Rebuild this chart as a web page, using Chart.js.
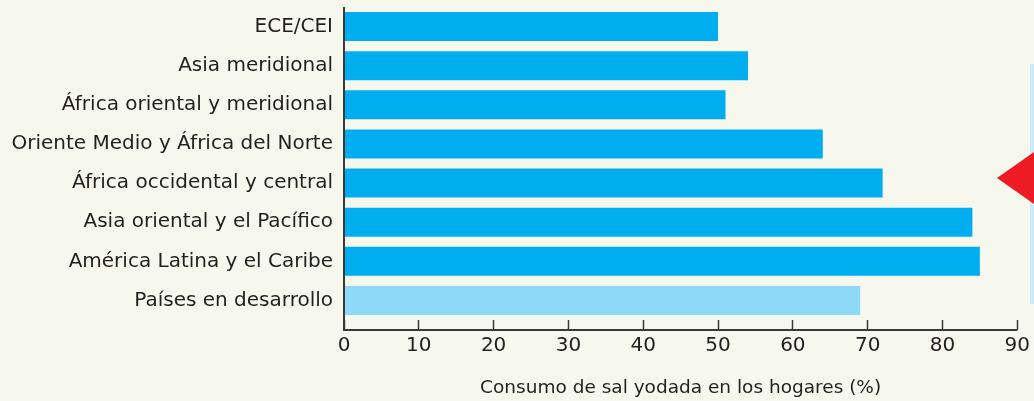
<!DOCTYPE html>
<html>
<head>
<meta charset="utf-8">
<script src="https://cdn.jsdelivr.net/npm/chart.js@4/dist/chart.umd.min.js"></script>
<style>
  html, body { margin: 0; padding: 0; background: #f6f8ee; }
  #wrap { width: 1034px; height: 401px; }
</style>
</head>
<body>
<div id="wrap"><canvas id="grafica"></canvas></div>
<script>
// Datos de la gráfica
const regiones = [
  "ECE/CEI",
  "Asia meridional",
  "África oriental y meridional",
  "Oriente Medio y África del Norte",
  "África occidental y central",
  "Asia oriental y el Pacífico",
  "América Latina y el Caribe",
  "Países en desarrollo"
];
const consumoSal = [50, 54, 51, 64, 72, 84, 85, 69];
const ticksX = [0, 10, 20, 30, 40, 50, 60, 70, 80, 90];

const azul = "#00aeef";
const azulClaro = "#8ed8f8";
const texto = "#231f20";
const ejeColor = "#3a3a3a";
const fuente = "'DejaVu Sans', sans-serif";

// Ejes con la línea desplazada bajo el área, y decoración de la derecha
const ejesPlugin = {
  id: "ejes",
  afterDraw(chart) {
    const ctx = chart.ctx;
    const area = chart.chartArea;
    const x = chart.scales.x;
    const yBase = area.bottom + 10;
    ctx.save();
    ctx.strokeStyle = ejeColor;
    ctx.lineWidth = 2;
    ctx.beginPath();
    ctx.moveTo(x.getPixelForValue(0), area.top);
    ctx.lineTo(x.getPixelForValue(0), yBase);
    ctx.lineTo(x.getPixelForValue(90), yBase);
    ctx.stroke();

    // panel y flecha roja
    ctx.fillStyle = "#cce9f7";
    ctx.fillRect(1030, 64, 4, 240);
    ctx.fillStyle = "#ed1c24";
    ctx.beginPath();
    ctx.moveTo(997, 178);
    ctx.lineTo(1034, 152);
    ctx.lineTo(1034, 204);
    ctx.closePath();
    ctx.fill();
    ctx.restore();
  }
};

const ctx = document.getElementById("grafica").getContext("2d");
new Chart(ctx, {
  type: "bar",
  data: {
    labels: regiones,
    datasets: [
      {
        data: consumoSal,
        backgroundColor: consumoSal.map((_, i) =>
          i === regiones.length - 1 ? azulClaro : azul
        ),
        barPercentage: 0.74,
        categoryPercentage: 1
      }
    ]
  },
  options: {
    indexAxis: "y",
    responsive: true,
    maintainAspectRatio: false,
    animation: false,
    layout: { padding: { top: 7, right: 13, bottom: 0, left: 0 } },
    plugins: {
      legend: { display: false },
      tooltip: { enabled: false }
    },
    scales: {
      x: {
        min: 0,
        max: 90,
        afterBuildTicks: (scale) => {
          scale.ticks = ticksX.map((v) => ({ value: v }));
        },
        afterFit: (scale) => {
          scale.height = 81;
        },
        grid: {
          drawOnChartArea: false,
          drawTicks: true,
          tickLength: 10,
          tickWidth: 1.5,
          tickColor: ejeColor
        },
        border: { display: false },
        ticks: {
          color: texto,
          font: { family: fuente, size: 20 },
          padding: 4
        },
        title: {
          display: true,
          text: "Consumo de sal yodada en los hogares (%)",
          color: texto,
          font: { family: fuente, size: 18.5 },
          padding: { top: 4, bottom: 2 }
        }
      },
      y: {
        afterFit: (scale) => {
          scale.width = 344;
          scale.paddingTop = 0;
          scale.paddingBottom = 0;
        },
        grid: { display: false, drawTicks: false },
        border: { display: false },
        ticks: {
          color: texto,
          font: { family: fuente, size: 20 },
          padding: 11
        }
      }
    }
  },
  plugins: [ejesPlugin]
});
</script>
</body>
</html>
